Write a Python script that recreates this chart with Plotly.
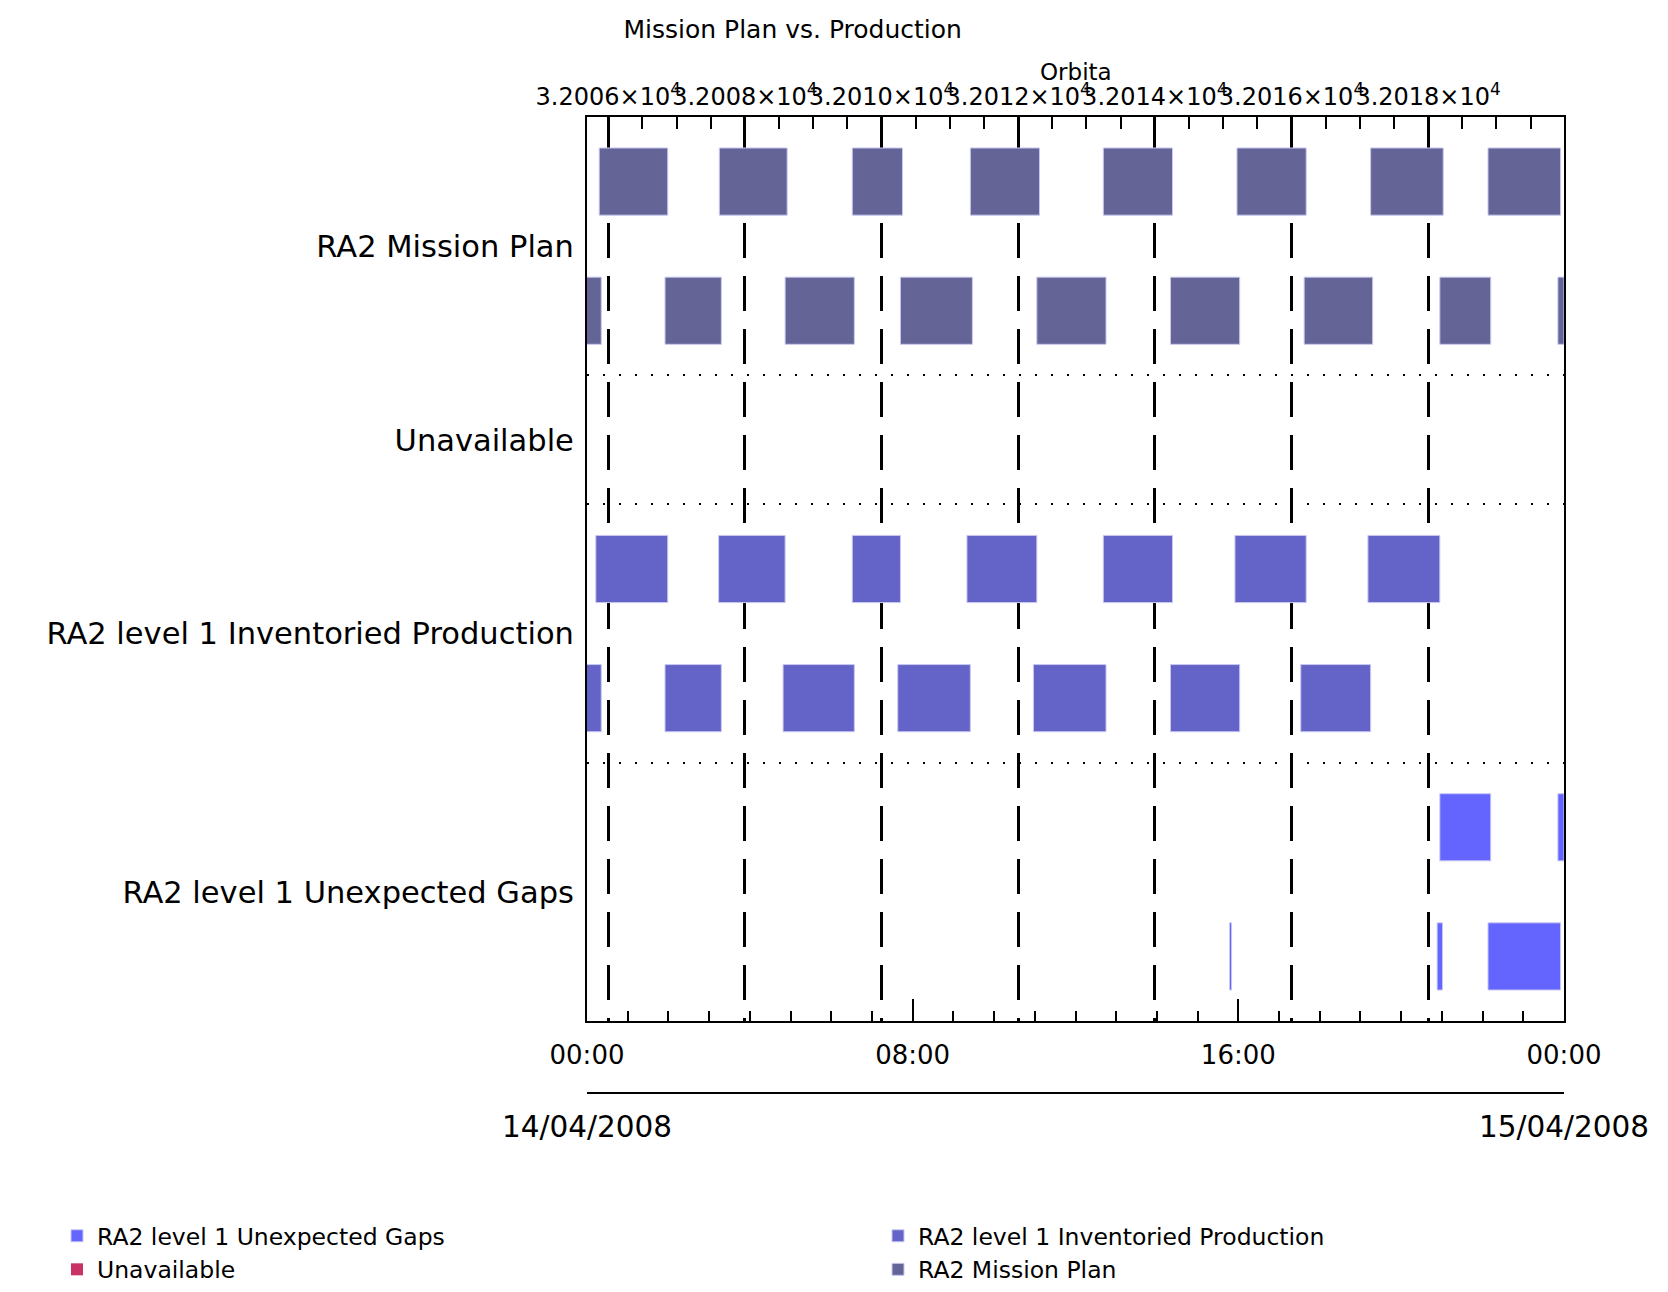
import pandas as pd
import plotly.graph_objects as go

DAY = "2008-04-14"
NEXT_DAY = "2008-04-15"

# Rows on the y axis, top to bottom
CATEGORIES = ["RA2 Mission Plan", "Unavailable",
              "RA2 level 1 Inventoried Production", "RA2 level 1 Unexpected Gaps"]

# Bars as (start, end) clock times on 14/04/2008, two lanes per row (alternate passes)
plan_upper = [("00:18", "01:59"), ("03:15", "04:55"), ("06:31", "07:45"), ("09:25", "11:07"),
              ("12:41", "14:23"), ("15:58", "17:40"), ("19:15", "21:02"), ("22:08", "23:55")]
plan_lower = [("-00:07", "00:21"), ("01:55", "03:18"), ("04:52", "06:34"), ("07:42", "09:28"),
              ("11:03", "12:45"), ("14:20", "16:02"), ("17:37", "19:18"), ("20:57", "22:12"),
              ("23:51", "24:00")]
prod_upper = [("00:13", "01:59"), ("03:14", "04:52"), ("06:31", "07:42"), ("09:20", "11:03"),
              ("12:41", "14:23"), ("15:55", "17:40"), ("19:11", "20:57")]
prod_lower = [("-00:07", "00:21"), ("01:55", "03:18"), ("04:49", "06:34"), ("07:38", "09:25"),
              ("10:58", "12:45"), ("14:20", "16:02"), ("17:32", "19:15")]
gaps_upper = [("20:57", "22:12"), ("23:51", "24:00")]
gaps_lower = [("15:47", "15:50"), ("20:53", "21:01"), ("22:08", "23:55")]
unavailable = [("00:00", "00:00")]  # nothing unavailable that day, zero-length entry keeps the legend

# Orbit numbers on the top axis
ORBIT_RANGE = [32005.689, 32019.990]
ORBIT_TICKS = [32006, 32008, 32010, 32012, 32014, 32016, 32018]

COLORS = {
    "RA2 level 1 Unexpected Gaps": "#6464ff",
    "Unavailable": "#c83264",
    "RA2 level 1 Inventoried Production": "#6464c8",
    "RA2 Mission Plan": "#646496",
}

FONT = "DejaVu Sans"
day0 = pd.Timestamp(DAY)


def lane_bars(spans, lane_y):
    starts = [day0 + pd.to_timedelta(s + ":00") for s, _ in spans]
    ends = [day0 + pd.to_timedelta(e + ":00") for _, e in spans]
    dur = [(e - s).total_seconds() * 1000 for s, e in zip(starts, ends)]
    return starts, dur, [lane_y] * len(spans)


def add_category(fig, name, lanes, legend, edge="#c8c8f0"):
    base, x, y = [], [], []
    for spans, lane_y in lanes:
        b, d, yy = lane_bars(spans, lane_y)
        base += b
        x += d
        y += yy
    fig.add_trace(go.Bar(
        name=name, orientation="h", base=base, x=x, y=y, width=0.52,
        marker=dict(color=COLORS[name], line=dict(color=edge, width=1)),
        legend=legend,
    ))


fig = go.Figure()
add_category(fig, "RA2 level 1 Unexpected Gaps", [(gaps_upper, 5.5), (gaps_lower, 6.5)], "legend")
add_category(fig, "Unavailable", [(unavailable, 2.5)], "legend", edge="rgba(0,0,0,0)")
add_category(fig, "RA2 level 1 Inventoried Production", [(prod_upper, 3.5), (prod_lower, 4.5)], "legend2")
add_category(fig, "RA2 Mission Plan", [(plan_upper, 0.5), (plan_lower, 1.5)], "legend2")

# invisible helpers so the orbit and date axes get drawn
fig.add_trace(go.Scatter(x=ORBIT_RANGE, y=[0, 0], xaxis="x2", mode="markers",
                         marker=dict(opacity=0), hoverinfo="skip", showlegend=False))
fig.add_trace(go.Scatter(x=[DAY, NEXT_DAY], y=[0, 0], xaxis="x3", mode="markers",
                         marker=dict(opacity=0), hoverinfo="skip", showlegend=False))

HOUR_MS = 3600 * 1000
W, H = 1652, 1284
PLOT_L, PLOT_W, PLOT_T, PLOT_B = 579, 977, 109, 1013
DATE_LINE = 1085
fig.update_layout(
    width=W, height=H,
    margin=dict(l=PLOT_L, r=W - PLOT_L - PLOT_W, t=PLOT_T, b=H - DATE_LINE, autoexpand=False),
    plot_bgcolor="white", paper_bgcolor="white",
    font=dict(family=FONT, color="black", size=26),
    barmode="overlay",
    title=dict(text="Mission Plan vs. Production", font=dict(size=25),
               x=0.475, xref="container", xanchor="center",
               y=1 - 21 / H, yref="container", yanchor="middle"),
    xaxis=dict(
        type="date", range=[DAY, NEXT_DAY], anchor="y", automargin=False,
        tick0=DAY, dtick=8 * HOUR_MS, tickformat="%H:%M", tickangle=0,
        ticks="inside", ticklen=22, tickwidth=2, tickcolor="black",
        minor=dict(dtick=HOUR_MS, ticks="inside", ticklen=10, tickwidth=2, tickcolor="black"),
        showline=True, linewidth=2, linecolor="black", mirror=True,
        showgrid=False, ticklabelstandoff=10, tickfont=dict(size=26),
    ),
    xaxis2=dict(
        overlaying="x", side="top", anchor="y", range=ORBIT_RANGE, automargin=False,
        tickmode="array", tickvals=ORBIT_TICKS, tickangle=0,
        ticktext=[f"{v / 1e4:.4f}×10<sup>4</sup>" for v in ORBIT_TICKS],
        ticks="inside", ticklen=24, tickwidth=2, tickcolor="black",
        minor=dict(dtick=0.5, tick0=32006, ticks="inside", ticklen=12, tickwidth=2,
                   tickcolor="black"),
        showgrid=True, gridcolor="black", gridwidth=2.5, griddash="35px,18px",
        showline=True, linewidth=2, linecolor="black",
        tickfont=dict(size=24), ticklabelstandoff=0,
    ),
    xaxis3=dict(
        overlaying="x", anchor="free", position=0, side="bottom", type="date",
        automargin=False, range=[DAY, NEXT_DAY], tickmode="array",
        tickvals=[DAY, NEXT_DAY], tickangle=0,
        tickformat="%d/%m/%Y", ticks="inside", ticklen=18, tickwidth=2, tickcolor="black",
        showline=True, linewidth=2, linecolor="black", showgrid=False,
        tickfont=dict(size=29.5), ticklabelstandoff=8,
    ),
    yaxis=dict(
        domain=[(DATE_LINE - PLOT_B) / (DATE_LINE - PLOT_T), 1], range=[7, 0], automargin=False,
        tickmode="array", tickvals=[1, 2.5, 4, 6], ticktext=CATEGORIES,
        ticks="", showline=True, linewidth=2, linecolor="black", mirror=True,
        showgrid=False, zeroline=False, ticklabelstandoff=5, tickfont=dict(size=30.5),
        minor=dict(tickmode="array", tickvals=[2, 3, 5], showgrid=True, gridcolor="black",
                   gridwidth=2, griddash="2px,14px", ticks=""),
    ),
    annotations=[dict(text="Orbita", xref="paper", yref="paper", x=0.5, y=1,
                      yanchor="middle", yshift=45, showarrow=False, font=dict(size=23))],
    legend=dict(xref="paper", yref="container", x=(49 - PLOT_L) / PLOT_W, y=1 - 1206 / H,
                xanchor="left", yanchor="top", font=dict(size=23.5), tracegroupgap=0),
    legend2=dict(xref="paper", yref="container", x=(870 - PLOT_L) / PLOT_W, y=1 - 1206 / H,
                 xanchor="left", yanchor="top", font=dict(size=23.5), tracegroupgap=0),
)

fig.write_html("out.html")
